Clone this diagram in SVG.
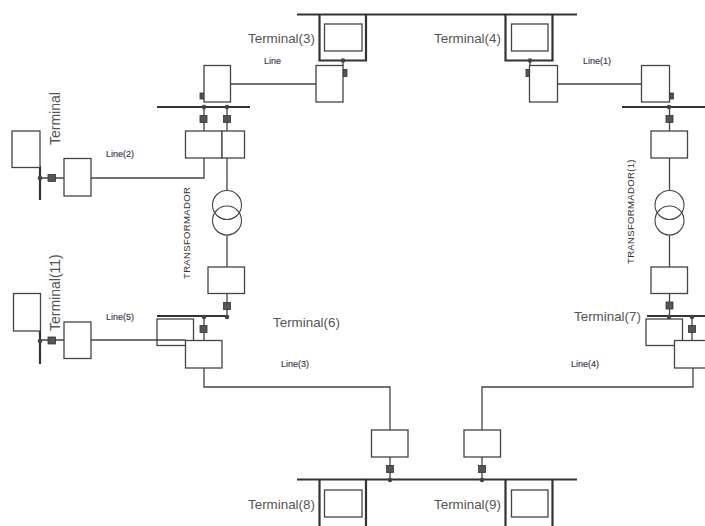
<svg xmlns="http://www.w3.org/2000/svg" width="705" height="526" viewBox="0 0 705 526">
<style>
.b{fill:#fff;stroke:#444;stroke-width:1.3}
.w{fill:none;stroke:#444;stroke-width:1.3}
.bus{fill:none;stroke:#333;stroke-width:2.2}
.s{fill:#555;stroke:#333;stroke-width:.8}
.d{fill:#444}
.t{font-family:"Liberation Sans",Arial,sans-serif;font-size:13.4px;fill:#555}
.r{font-size:14px}
.l{font-family:"Liberation Sans",Arial,sans-serif;font-size:9px;fill:#3a3a4a;stroke:#3a3a4a;stroke-width:.15}
.x{font-family:"Liberation Sans",Arial,sans-serif;font-size:9.5px;fill:#333;letter-spacing:.35px}
.c{fill:none;stroke:#444;stroke-width:1.1}
</style>
<rect width="705" height="526" fill="#fff"/>
<g id="terminal6-box"><rect class="b" x="157" y="319" width="36.500" height="26.500"/></g>
<g id="connectors">
<path class="w" d="M230.500 84H316M557.500 84H641M91 178H204V158M227 158V191M227 235V267M227 293.500V317M204 107V131M227 107V131M204 317V340M91 340H185.500M204 368V387H390V430M390 457V480M482 457V480M482 430V387H693V368M692 317V340M669.500 293.500V317M669.500 235V267M669.500 158V191M669.500 107V131M40 178H64M40 340H64"/>
<path class="w" d="M343 60.500V65.500M530 60.500V65.500"/>
</g>
<g id="bus-top"><path class="bus" d="M297 14.500H577"/></g>
<g id="bus-bottom"><path class="bus" d="M297 479.500H577"/></g>
<g id="bus-a"><path class="bus" d="M157 107H250"/></g>
<g id="bus-b"><path class="bus" d="M622 107H705"/></g>
<g id="bus-c"><path class="bus" d="M157 316H227"/></g>
<g id="bus-d"><path class="bus" d="M647 316H705"/></g>
<g id="bus-e"><path class="bus" d="M40 166V200"/></g>
<g id="bus-f"><path class="bus" d="M40 331V364"/></g>

<g id="terminal3"><path class="bus" d="M319.500 14.500V60.500H366V14.500"/><rect class="b" x="324.500" y="24" width="37.500" height="27"/><text class="t" x="248" y="43">Terminal(3)</text></g>
<g id="terminal4"><path class="bus" d="M505.500 14.500V60.500H552.500V14.500"/><rect class="b" x="511.500" y="24" width="36.500" height="27"/><text class="t" x="434" y="43">Terminal(4)</text></g>
<g id="terminal8"><path class="bus" d="M319.500 479.500V526M366 479.500V526"/><rect class="b" x="324.500" y="490" width="37.500" height="27"/><text class="t" x="248" y="509">Terminal(8)</text></g>
<g id="terminal9"><path class="bus" d="M505.500 479.500V526M552.500 479.500V526"/><rect class="b" x="511.500" y="490" width="36.500" height="27"/><text class="t" x="434" y="509">Terminal(9)</text></g>
<g id="terminal"><rect class="b" x="12" y="131" width="28" height="36.500"/><text class="t r" transform="translate(59.500 145) rotate(-90)">Terminal</text></g>
<g id="terminal11"><rect class="b" x="13.500" y="293.500" width="27" height="37.500"/><text class="t r" transform="translate(59.500 331) rotate(-90)">Terminal(11)</text></g>
<g id="terminal6"><text class="t" x="273" y="327">Terminal(6)</text></g>
<g id="terminal7"><rect class="b" x="646" y="319" width="36.500" height="26.500"/><text class="t" x="574" y="321">Terminal(7)</text></g>

<g id="line-a"><rect class="b" x="204" y="65.500" width="26.500" height="36.500"/></g>
<g id="line-b"><rect class="b" x="316" y="65.500" width="27" height="36.500"/></g>
<g id="line1-a"><rect class="b" x="529.500" y="65.500" width="28" height="36.500"/></g>
<g id="line1-b"><rect class="b" x="641.500" y="65.500" width="28" height="36.500"/></g>
<g id="line2-a"><rect class="b" x="64" y="158.500" width="27" height="37.500"/></g>
<g id="line5-a"><rect class="b" x="64" y="322" width="27" height="36.500"/></g>
<g id="cb-a"><rect class="b" x="185.500" y="131" width="36.500" height="27"/></g>
<g id="cb-b"><rect class="b" x="222" y="131" width="22.500" height="27"/></g>
<g id="cb-c"><rect class="b" x="208" y="267" width="36.500" height="26.500"/></g>
<g id="cb-d"><rect class="b" x="185.500" y="340.500" width="36.500" height="27.500"/></g>
<g id="cb-e"><rect class="b" x="651" y="131" width="36.500" height="27"/></g>
<g id="cb-f"><rect class="b" x="651" y="267" width="36.500" height="26.500"/></g>
<g id="cb-g"><rect class="b" x="674.500" y="340.500" width="32" height="27.500"/></g>
<g id="cb-h"><rect class="b" x="371.500" y="430" width="36.500" height="27"/></g>
<g id="cb-i"><rect class="b" x="464" y="430" width="36.500" height="27"/></g>

<g id="transformador"><circle class="c" cx="227" cy="205" r="14.500"/><circle class="c" cx="227" cy="220.500" r="14.500"/><text class="x" transform="translate(189.500 279) rotate(-90)">TRANSFORMADOR</text></g>
<g id="transformador1"><circle class="c" cx="669.500" cy="205" r="14.500"/><circle class="c" cx="669.500" cy="220.500" r="14.500"/><text class="x" transform="translate(634 264) rotate(-90)">TRANSFORMADOR(1)</text></g>

<g id="switches">
<rect class="s" x="200" y="93" width="3.500" height="6"/><rect class="s" x="343.500" y="69.500" width="3.500" height="7"/><rect class="s" x="526" y="69.500" width="3.500" height="7"/><rect class="s" x="670" y="93" width="3.500" height="6"/>
<rect class="s" x="200" y="115.500" width="7" height="7"/><rect class="s" x="223.500" y="115.500" width="7" height="7"/><rect class="s" x="666" y="115.500" width="7" height="7"/>
<rect class="s" x="48" y="174.500" width="7.500" height="7"/><rect class="s" x="48" y="337" width="7.500" height="7"/>
<rect class="s" x="223.500" y="302.500" width="7" height="7"/><rect class="s" x="200" y="325.500" width="7" height="7"/><rect class="s" x="666" y="302" width="7" height="7"/><rect class="s" x="688.500" y="325.500" width="7" height="7"/>
<rect class="s" x="386.500" y="465.500" width="7" height="7"/><rect class="s" x="478.500" y="465.500" width="7" height="7"/>
</g>
<g id="dots">
<circle class="d" cx="204" cy="107" r="2.300"/><circle class="d" cx="227" cy="107" r="2.300"/><circle class="d" cx="669" cy="107" r="2.300"/>
<circle class="d" cx="343" cy="60.500" r="2.300"/><circle class="d" cx="530" cy="60.500" r="2.300"/>
<circle class="d" cx="40" cy="178" r="2.300"/><circle class="d" cx="40" cy="341" r="2.300"/>
<circle class="d" cx="227" cy="317" r="2.300"/><circle class="d" cx="204" cy="317" r="2.300"/><circle class="d" cx="669" cy="317" r="2.300"/><circle class="d" cx="692" cy="317" r="2.300"/>
<circle class="d" cx="390" cy="480" r="2.300"/><circle class="d" cx="482" cy="480" r="2.300"/>
</g>
<g id="labels">
<text class="l" x="264" y="64">Line</text>
<text class="l" x="583" y="64">Line(1)</text>
<text class="l" x="106" y="157">Line(2)</text>
<text class="l" x="106" y="320">Line(5)</text>
<text class="l" x="281" y="367">Line(3)</text>
<text class="l" x="571" y="367">Line(4)</text>
</g>
</svg>
